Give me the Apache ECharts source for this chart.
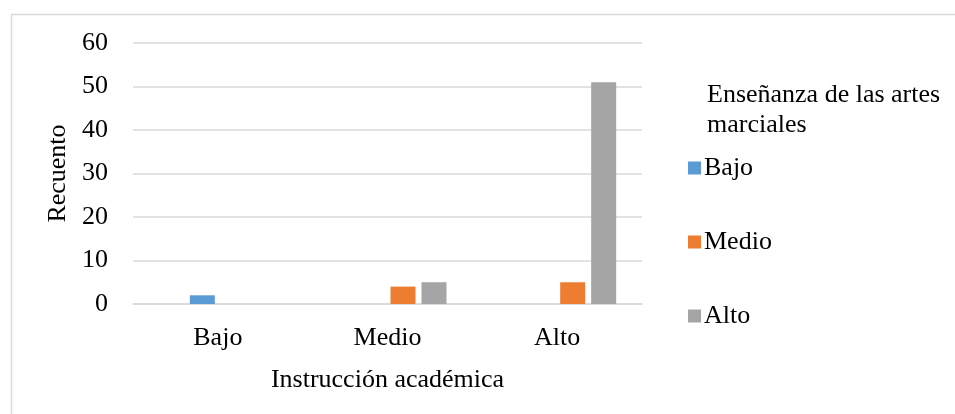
<html>
    <head>
        <meta charset='utf-8'>
        <script src='https://cdn.jsdelivr.net/npm/echarts@6/dist/echarts.min.js'></script>
    </head>
    <body>
        <style>
            html, body, #main {
                width: 100%;
                height: 100%;
                margin: 0;
                background: #fff;
            }
        </style>
        <div id='main'></div>
        <script>

            var categories = ['Bajo', 'Medio', 'Alto'];
            var seriesNames = ['Bajo', 'Medio', 'Alto'];
            var bajoValues = [2, null, null];
            var medioValues = [null, 4, 5];
            var altoValues = [null, 5, 51];
            var yTicks = [0, 10, 20, 30, 40, 50, 60];

            var FONT = "'Liberation Serif', 'Times New Roman', serif";
            var colors = ['#5B9BD5', '#ED7D31', '#A5A5A5'];

            var chart = echarts.init(document.getElementById('main'));

            function barSeries(name, data, color) {
                return {
                    type: 'bar',
                    name: name,
                    data: data,
                    barWidth: 25,
                    barGap: '24%',
                    itemStyle: { color: color },
                    silent: true
                };
            }

            var option = {
                animation: false,
                backgroundColor: '#fff',
                textStyle: { fontFamily: FONT, color: '#000' },
                graphic: [{
                    type: 'rect',
                    shape: { x: 11.5, y: 14.5, width: 1000, height: 600 },
                    style: { fill: 'none', stroke: '#d9d9d9', lineWidth: 1.5 },
                    silent: true
                }],
                title: {
                    text: 'Enseñanza de las artes\nmarciales',
                    left: 702,
                    top: 75,
                    textStyle: {
                        fontFamily: FONT,
                        fontWeight: 'normal',
                        fontSize: 26,
                        lineHeight: 30,
                        color: '#000'
                    }
                },
                legend: {
                    data: seriesNames,
                    orient: 'vertical',
                    left: 683,
                    top: 150,
                    itemWidth: 13,
                    itemHeight: 13,
                    itemGap: 48,
                    icon: 'rect',
                    textStyle: {
                        fontFamily: FONT,
                        fontSize: 26,
                        lineHeight: 26,
                        color: '#000',
                        padding: [0, 0, 0, -2]
                    }
                },
                grid: {
                    left: 133,
                    right: 313,
                    top: 43,
                    bottom: 110
                },
                xAxis: {
                    type: 'category',
                    data: categories,
                    name: 'Instrucción académica',
                    nameLocation: 'middle',
                    nameGap: 63,
                    nameTextStyle: { fontFamily: FONT, fontSize: 26, color: '#000' },
                    axisLine: { lineStyle: { color: '#d9d9d9', width: 1.5 } },
                    axisTick: { show: false },
                    axisLabel: { fontFamily: FONT, fontSize: 26, color: '#000', margin: 21 }
                },
                yAxis: {
                    type: 'value',
                    min: yTicks[0],
                    max: yTicks[yTicks.length - 1],
                    interval: 10,
                    name: 'Recuento',
                    nameLocation: 'middle',
                    nameRotate: 90,
                    nameGap: 59,
                    nameTextStyle: { fontFamily: FONT, fontSize: 26, color: '#000' },
                    axisLine: { show: false },
                    axisTick: { show: false },
                    splitLine: { lineStyle: { color: '#d9d9d9', width: 1.5 } },
                    axisLabel: { fontFamily: FONT, fontSize: 26, color: '#000', margin: 25 }
                },
                series: [
                    // empty series, keeps the groups shifted like the original
                    { type: 'bar', name: '', data: [], barWidth: 25, barGap: '24%' },
                    barSeries(seriesNames[0], bajoValues, colors[0]),
                    barSeries(seriesNames[1], medioValues, colors[1]),
                    barSeries(seriesNames[2], altoValues, colors[2])
                ]
            };

            chart.setOption(option);

        </script>
    </body>
</html>
